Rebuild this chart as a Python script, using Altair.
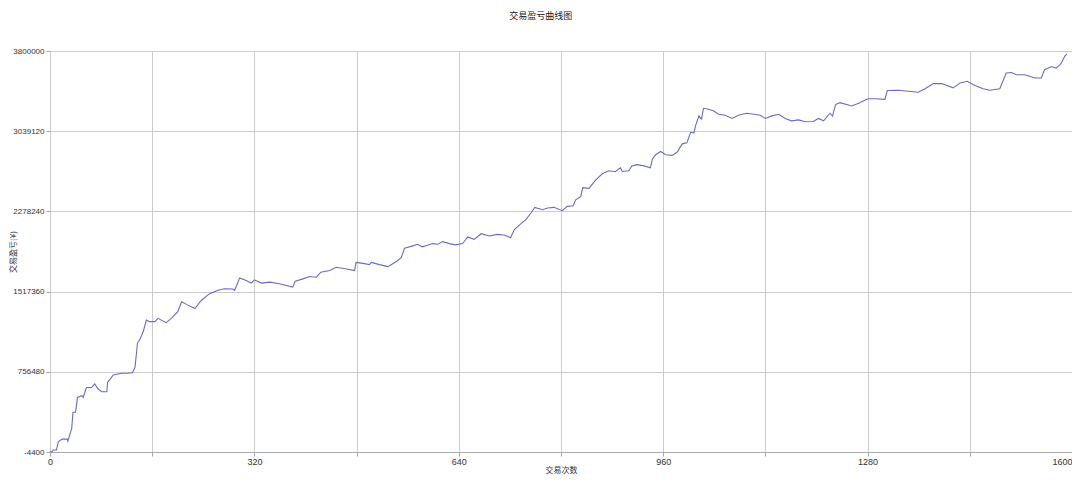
import altair as alt
import pandas as pd

trade_no = [0, 3, 5, 10, 13, 19, 27, 28, 34, 36, 40, 43, 50, 52, 57, 65, 70, 75, 81, 89,
            90, 99, 112, 122, 129, 133, 137, 141, 146, 151, 156, 164, 169, 182, 190, 200,
            206, 216, 227, 237, 250, 263, 273, 286, 289, 297, 307, 315, 320, 331, 344, 359,
            380, 384, 396, 406, 417, 424, 438, 448, 464, 477, 479, 490, 500, 503, 516, 529,
            536, 544, 550, 555, 568, 575, 583, 591, 599, 607, 615, 625, 635, 646, 654, 664,
            675, 688, 700, 711, 721, 727, 737, 745, 753, 759, 771, 779, 789, 802, 810, 819,
            823, 831, 834, 844, 854, 865, 875, 885, 893, 896, 906, 911, 919, 930, 940, 943,
            948, 956, 964, 974, 982, 990, 997, 1003, 1008, 1011, 1016, 1020, 1023, 1031,
            1039, 1047, 1057, 1068, 1078, 1091, 1102, 1112, 1120, 1130, 1141, 1151, 1161,
            1172, 1182, 1195, 1203, 1211, 1221, 1225, 1230, 1237, 1255, 1268, 1273, 1281,
            1292, 1307, 1311, 1328, 1344, 1359, 1370, 1383, 1396, 1414, 1425, 1436, 1448,
            1461, 1471, 1487, 1497, 1505, 1513, 1526, 1542, 1552, 1557, 1568, 1575, 1581,
            1583, 1589, 1592]

pnl = [0, -4400, 14000, 14000, 92100, 117400, 117400, 98700, 220500, 373000, 373000,
       513800, 529700, 513800, 607500, 607500, 642100, 595300, 567200, 567200, 654300,
       726500, 742400, 742400, 748000, 794900, 1029100, 1066600, 1138700, 1248400,
       1232500, 1232500, 1263400, 1223100, 1263400, 1326200, 1419900, 1389000, 1357100,
       1435800, 1497600, 1529500, 1544500, 1541700, 1529500, 1647600, 1623200, 1598000,
       1628900, 1598000, 1607300, 1591400, 1560400, 1616700, 1638200, 1660700, 1654100,
       1701000, 1716900, 1747800, 1731900, 1716900, 1794700, 1785300, 1773100, 1794700,
       1773100, 1754400, 1778700, 1810600, 1841500, 1928700, 1951100, 1966200, 1941800,
       1956800, 1972800, 1966200, 1991500, 1972800, 1960600, 1972800, 2035600, 2013100,
       2066500, 2045000, 2060000, 2054300, 2029000, 2106700, 2160100, 2200400, 2263200,
       2316600, 2294100, 2310000, 2316600, 2284700, 2325900, 2331600, 2387800, 2419700,
       2504000, 2497400, 2575200, 2638000, 2663300, 2654000, 2691500, 2656800, 2663300,
       2710200, 2722300, 2710200, 2691500, 2772000, 2816000, 2846900, 2816000, 2809500,
       2841300, 2919100, 2928500, 3028800, 3022100, 3097100, 3184300, 3153400, 3256400,
       3247100, 3231100, 3200200, 3190800, 3159900, 3190800, 3209500, 3200200, 3190800,
       3159900, 3184300, 3200200, 3159900, 3137400, 3146800, 3128100, 3131800, 3159900,
       3137400, 3209500, 3181500, 3294000, 3309900, 3278100, 3309900, 3324900, 3347400,
       3347400, 3340800, 3425100, 3428000, 3418600, 3409200, 3441100, 3490800, 3490800,
       3450400, 3497300, 3512300, 3472000, 3441100, 3428000, 3441100, 3590900, 3596600,
       3575000, 3575000, 3544100, 3544100, 3622000, 3652900, 3637900, 3668800, 3684700,
       3753100, 3770000]

x_ticks = [0, 160, 320, 480, 640, 800, 960, 1120, 1280, 1440, 1600]
y_ticks = [-4400, 756480, 1517360, 2278240, 3039120, 3800000]

df = pd.DataFrame({"trade": trade_no, "pnl": pnl})

label_font = "Liberation Sans"
cjk_font = "Noto Sans CJK SC"

chart = alt.Chart(df).mark_line(color="#6b6bc4", strokeWidth=1.1).encode(
    x=alt.X(
        "trade:Q",
        scale=alt.Scale(domain=[0, 1600], nice=False, zero=False),
        axis=alt.Axis(
            title="交易次数", values=x_ticks,
            labelExpr="datum.value % 320 === 0 ? '' + datum.value : ''",
            labelAlign={"condition": {"test": "datum.value >= 1600", "value": "right"},
                        "value": "center"},
            labelFlush=False, labelOverlap=False, labelFont=label_font,
            labelFontSize=9, labelColor="#333333", labelPadding=1,
            tickSize=4, tickColor="#aaaaaa", domainColor="#aaaaaa",
            gridColor="#cccccc", titleFont=cjk_font, titleFontSize=8,
            titleFontWeight="normal", titleColor="#333333", titlePadding=0,
        ),
    ),
    y=alt.Y(
        "pnl:Q",
        scale=alt.Scale(domain=[-4400, 3800000], nice=False, zero=False),
        axis=alt.Axis(
            title="交易盈亏(¥)", values=y_ticks,
            labelExpr="'' + datum.value",
            labelOverlap=False, labelFont=label_font, labelFontSize=8,
            labelColor="#333333", labelPadding=2, tickSize=4,
            tickColor="#aaaaaa", domain=False, gridColor="#cccccc",
            titleFont=cjk_font, titleFontSize=8, titleFontWeight="normal",
            titleColor="#333333", titleX=-33, titleBaseline="bottom",
        ),
    ),
).properties(
    width=1022,
    height=401,
    title=alt.TitleParams(
        text="交易盈亏曲线图", font=cjk_font, fontSize=9, fontWeight="normal",
        color="#222222", anchor="middle", frame="bounds", offset=26,
    ),
    padding={"left": 42, "top": 43, "right": 0, "bottom": 24},
    autosize=alt.AutoSizeParams(type="none"),
).configure_view(
    fill="#efefef", stroke="#cccccc"
).configure(background="white")

chart.save("out.html", embed_options={"renderer": "svg", "actions": False})
